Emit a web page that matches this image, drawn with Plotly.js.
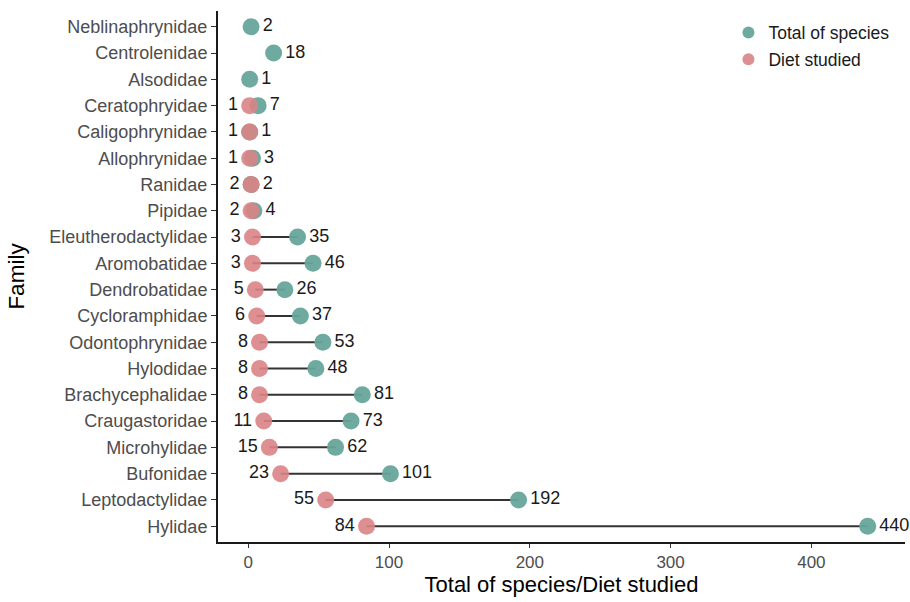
<!DOCTYPE html>
<html>
<head>
<meta charset="utf-8">
<script src="https://cdn.plot.ly/plotly-3.0.1.min.js"></script>
<style>html,body{margin:0;padding:0;background:#fff;}#chart{width:910px;height:602px;}</style>
</head>
<body>
<div id="chart"></div>
<script>
// Families, listed top to bottom as in the chart
const families = ["Neblinaphrynidae","Centrolenidae","Alsodidae","Ceratophryidae","Caligophrynidae","Allophrynidae","Ranidae","Pipidae","Eleutherodactylidae","Aromobatidae","Dendrobatidae","Cycloramphidae","Odontophrynidae","Hylodidae","Brachycephalidae","Craugastoridae","Microhylidae","Bufonidae","Leptodactylidae","Hylidae"];
const totalSpecies = [2,18,1,7,1,3,2,4,35,46,26,37,53,48,81,73,62,101,192,440];
const dietStudied = [null,null,null,1,1,1,2,2,3,3,5,6,8,8,8,11,15,23,55,84];
const xTicks = [0,100,200,300,400];

const green = '#66a59b';
const pink = '#d98385';
const FONT = 'Liberation Sans, Arial, sans-serif';

// connecting segments
const segX = [], segY = [];
families.forEach((f, i) => {
  if (dietStudied[i] !== null) {
    segX.push(dietStudied[i], totalSpecies[i], null);
    segY.push(f, f, null);
  }
});

const dF = [], dX = [], dT = [];
families.forEach((f, i) => {
  if (dietStudied[i] !== null) { dF.push(f); dX.push(dietStudied[i]); dT.push(String(dietStudied[i])); }
});

const traces = [
  {x: segX, y: segY, mode: 'lines', line: {color: '#333333', width: 2}, showlegend: false, hoverinfo: 'skip'},
  {x: totalSpecies, y: families, name: 'Total of species', mode: 'markers+text',
   marker: {color: green, size: 17, opacity: 0.95},
   text: totalSpecies.map(String), textposition: 'middle right', cliponaxis: false,
   textfont: {family: FONT, size: 18, color: '#1a1a1a'},
   legendgroup: 'a'},
  {x: dX, y: dF, name: 'Diet studied', mode: 'markers+text',
   marker: {color: pink, size: 17, opacity: 0.9},
   text: dT, textposition: 'middle left', cliponaxis: false,
   textfont: {family: FONT, size: 18, color: '#1a1a1a'},
   legendgroup: 'b'}
];

const layout = {
  width: 910, height: 602,
  margin: {l: 218, r: 5, t: 11, b: 60},
  paper_bgcolor: '#fff', plot_bgcolor: '#fff',
  font: {family: FONT, color: '#4d4d4d'},
  showlegend: true,
  legend: {x: 0.743, y: 0.993, xanchor: 'left', yanchor: 'top', bgcolor: 'rgba(0,0,0,0)',
           font: {family: FONT, size: 17.5, color: '#1a1a1a'}, tracegroupgap: 1, itemsizing: 'constant'},
  xaxis: {
    range: [-21.5, 466.5], tickvals: xTicks, ticktext: xTicks.map(String),
    showgrid: false, zeroline: false, showline: true, linecolor: '#1a1a1a', linewidth: 2,
    ticks: 'outside', ticklen: 4, tickcolor: '#333', tickwidth: 1,
    tickfont: {family: FONT, size: 17, color: '#4d4d4d'},
    title: {text: 'Total of species/Diet studied', font: {family: FONT, size: 22, color: '#000'}, standoff: 0}
  },
  yaxis: {
    type: 'category', categoryorder: 'array', categoryarray: families,
    range: [19.6, -0.6],
    showgrid: false, zeroline: false, showline: true, linecolor: '#1a1a1a', linewidth: 2,
    ticks: 'outside', ticklen: 5, tickcolor: '#333', tickwidth: 1,
    tickfont: {family: FONT, size: 18, color: '#4d4d4d'},
    title: {text: 'Family', font: {family: FONT, size: 22.5, color: '#000'}, standoff: 18}
  }
};

Plotly.newPlot('chart', traces, layout, {displayModeBar: false, staticPlot: true});
</script>
</body>
</html>
